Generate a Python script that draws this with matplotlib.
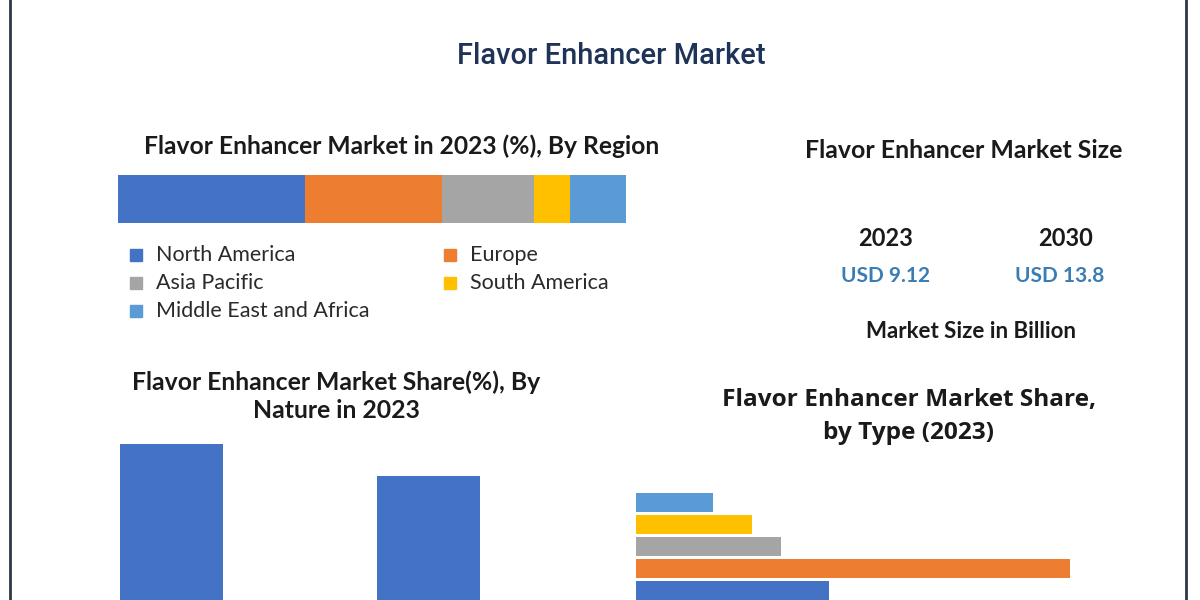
import matplotlib
matplotlib.use("Agg")
import matplotlib.pyplot as plt
from matplotlib.patches import Rectangle
import numpy as np

# ---------------- data ----------------
regions = ["North America", "Europe", "Asia Pacific", "South America", "Middle East and Africa"]
region_share = [36.8, 27.0, 18.1, 7.1, 11.0]
region_colors = ["#4472c4", "#ed7d31", "#a5a5a5", "#ffc000", "#5b9bd5"]

nature_labels = ["Natural", "Synthetic"]
nature_share = [55, 45]

type_labels = ["Type A", "Type B", "Type C", "Type D", "Type E"]
type_share = [8, 12, 15, 45, 20]
type_colors = ["#5b9bd5", "#ffc000", "#a5a5a5", "#ed7d31", "#4472c4"]

size_years = ["2023", "2030"]
size_values = ["USD 9.12", "USD 13.8"]

W, H = 1200, 600
fig = plt.figure(figsize=(12, 6), dpi=100)
fig.patch.set_facecolor("white")

def fx(x):
    return x / W

def fy(y):
    return 1 - y / H

def ax_px(left, top, right, bottom):
    return fig.add_axes([fx(left), fy(bottom), (right - left) / W, (bottom - top) / H])

BF = "Lato"
DARK = "#1a1a1a"

# border
for x in (9.5, 1186):
    fig.add_artist(plt.Line2D([fx(x), fx(x)], [-0.1, 1.1], transform=fig.transFigure,
                              color="#2d3744", lw=2.0))

# main title
fig.text(fx(611), fy(56), "Flavor Enhancer Market", ha="center", va="center",
         fontsize=21, color="#1f3358", family="Roboto", fontweight="medium")

# ---- region stacked bar ----
fig.text(fx(402), fy(146), "Flavor Enhancer Market in 2023 (%), By Region", ha="center",
         va="center", fontsize=17.7, fontweight="bold", color=DARK, family=BF)
ax1 = ax_px(118, 175, 626, 223)
left = 0
for v, c in zip(region_share, region_colors):
    ax1.barh([0], [v], left=left, height=1.0, color=c, edgecolor="none")
    left += v
ax1.set_xlim(0, sum(region_share))
ax1.set_ylim(-0.5, 0.5)
ax1.axis("off")

leg_pos = [(136, 255), (450, 255), (136, 283), (450, 283), (136, 311)]
for (lx, ly), name, c in zip(leg_pos, regions, region_colors):
    fig.add_artist(Rectangle((fx(lx - 6), fy(ly + 6)), 12 / W, 12 / H,
                             transform=fig.transFigure, color=c))
    fig.text(fx(lx + 20), fy(ly), name, ha="left", va="center", fontsize=15.5,
             color="#2a2a2a", family=BF)

# ---- market size ----
fig.text(fx(964), fy(150), "Flavor Enhancer Market Size", ha="center", va="center",
         fontsize=17.9, fontweight="bold", color=DARK, family=BF)
for xc, yr, val in zip([886, 1066], size_years, size_values):
    fig.text(fx(xc), fy(238), yr, ha="center", va="center", fontsize=17,
             fontweight="bold", color=DARK, family=BF)
    fig.text(fx(xc - 6 if yr == "2030" else xc), fy(276), val, ha="center", va="center",
             fontsize=15, fontweight="bold", color="#3a7db5", family=BF)
fig.text(fx(971), fy(332), "Market Size in Billion", ha="center", va="center",
         fontsize=16, fontweight="bold", color=DARK, family=BF)

# ---- nature bars ----
fig.text(fx(336), fy(382), "Flavor Enhancer Market Share(%), By", ha="center", va="center",
         fontsize=17.8, fontweight="bold", color=DARK, family=BF)
fig.text(fx(336), fy(411), "Nature in 2023", ha="center", va="center",
         fontsize=17.8, fontweight="bold", color=DARK, family=BF)
ax2 = ax_px(42.5, 428, 557, 620)
ax2.bar(np.arange(len(nature_share)), nature_share, width=0.4, color="#4472c4")
ax2.set_xlim(-0.5, 1.5)
ax2.set_ylim(0, 60)
ax2.axis("off")

# ---- type bars ----
fig.text(fx(909), fy(400), "Flavor Enhancer Market Share,", ha="center", va="center",
         fontsize=17.6, fontweight="bold", color=DARK, family="Open Sans")
fig.text(fx(909), fy(433), "by Type (2023)", ha="center", va="center",
         fontsize=17.6, fontweight="bold", color=DARK, family="Open Sans")
ax3 = ax_px(636, 491.5, 1118, 623.5)
ax3.barh(np.arange(len(type_share)), type_share, height=0.86, color=type_colors)
ax3.set_xlim(0, 50)
ax3.set_ylim(5.5, -0.5)
ax3.axis("off")

fig.savefig("out.png", dpi=100, facecolor="white")
